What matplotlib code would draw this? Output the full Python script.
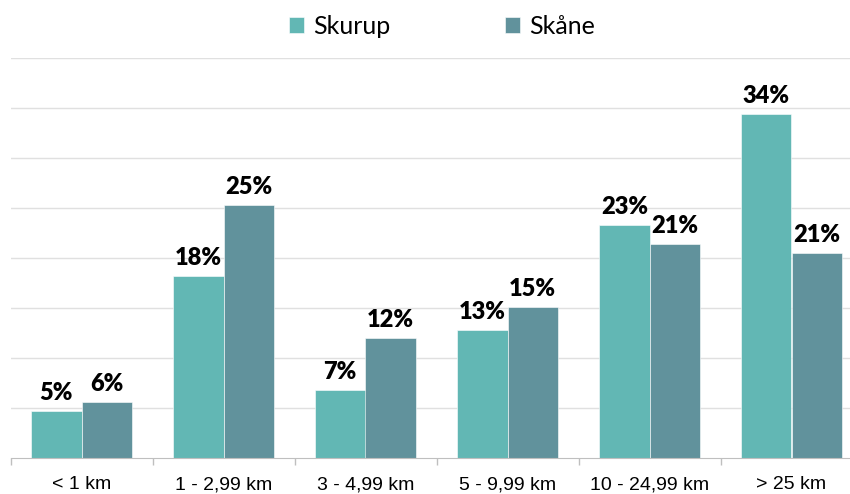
import numpy as np
import matplotlib
matplotlib.use("Agg")
import matplotlib.pyplot as plt

categories = ["< 1 km", "1 - 2,99 km", "3 - 4,99 km", "5 - 9,99 km", "10 - 24,99 km", "> 25 km"]
skurup = [4.7, 18.2, 6.8, 12.8, 23.3, 34.4]
skane = [5.6, 25.3, 12.0, 15.1, 21.4, 20.5]
skurup_labels = ["5%", "18%", "7%", "13%", "23%", "34%"]
skane_labels = ["6%", "25%", "12%", "15%", "21%", "21%"]

C_SKURUP = "#62B7B4"
C_SKANE = "#61929C"

fig = plt.figure(figsize=(8.5, 4.94), dpi=100)
# plot area runs a little past the right edge of the canvas, as in the original
ax = fig.add_axes([10.5 / 850, 1 - 458 / 494, 852 / 850, 400 / 494])

x = np.arange(len(categories))
w = 50.5 / 142
b1 = ax.bar(x - w / 2, skurup, width=w, color=C_SKURUP, edgecolor="white",
            linewidth=0.4, label="Skurup", zorder=2)
b2 = ax.bar(x + w / 2, skane, width=w, color=C_SKANE, edgecolor="white",
            linewidth=0.4, label="Skåne", zorder=2)

for bars, labs in ((b1, skurup_labels), (b2, skane_labels)):
    for r, t in zip(bars, labs):
        ax.annotate(t, (r.get_x() + r.get_width() / 2, r.get_height()),
                    textcoords="offset points", xytext=(0, 5), ha="center",
                    va="bottom", fontsize=17, fontweight="heavy",
                    family="Lato", color="black")

ax.set_xlim(-0.5, len(categories) - 0.5)
ax.set_ylim(0, 40)
ax.set_yticks(np.arange(5, 45, 5))
ax.yaxis.grid(True, color="#E0E0E0", lw=1)
ax.set_axisbelow(True)
ax.tick_params(axis="y", length=0, labelleft=False)

ax.set_xticks(x)
ax.set_xticklabels(categories, fontsize=14, family="Liberation Sans")
ax.set_xticks(np.arange(-0.5, len(categories), 1), minor=True)
ax.tick_params(axis="x", which="major", length=0, pad=13)
ax.tick_params(axis="x", which="minor", length=5, color="#BFBFBF", width=1)

for sp in ("top", "right", "left"):
    ax.spines[sp].set_visible(False)
ax.spines["bottom"].set_color("#BFBFBF")

fig.legend(handles=[b1, b2], labels=["Skurup", "Skåne"], loc="center",
           bbox_to_anchor=(442 / 850, 1 - 26 / 494), ncol=2, frameon=False,
           prop={"family": "Lato", "size": 18}, handlelength=0.6,
           handleheight=0.6, handletextpad=0.35, columnspacing=4.6)

fig.savefig("out.png", dpi=100)
